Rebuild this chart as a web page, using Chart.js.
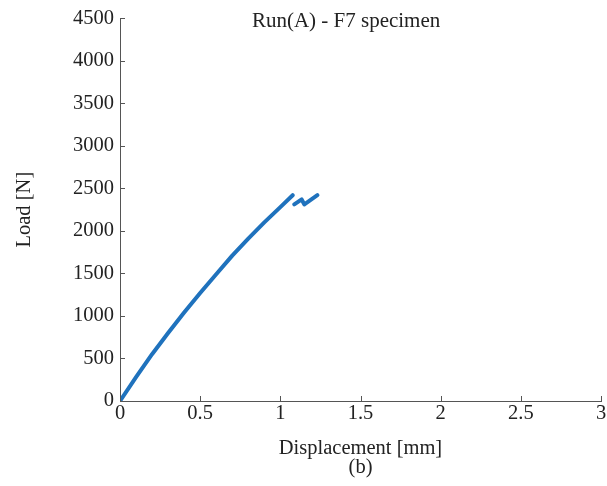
<!DOCTYPE html>
<html lang="en">
<head>
    <meta charset="UTF-8">
    <title>Run(A) - F7 specimen</title>
    <script src="https://cdn.jsdelivr.net/npm/chart.js"></script>
    <style>
        body {
            margin: 0;
            background-color: white;
        }
        #wrap {
            width: 607px;
            height: 486px;
        }
    </style>
</head>
<body>
    <div id="wrap"><canvas id="loadChart"></canvas></div>

    <script>
        // Load-displacement readings (mm, N); null = break after the first load drop
        const displacement = [0, 0.1, 0.2, 0.3, 0.4, 0.5, 0.6, 0.7, 0.8, 0.9, 1.0, 1.077, 1.08, 1.087, 1.133, 1.15, 1.231];
        const load = [0, 280, 550, 800, 1040, 1270, 1490, 1710, 1910, 2100, 2280, 2420, null, 2311, 2370, 2311, 2420];

        const xTicks = [0, 0.5, 1, 1.5, 2, 2.5, 3];
        const yTicks = [0, 500, 1000, 1500, 2000, 2500, 3000, 3500, 4000, 4500];

        const chartTitle = 'Run(A) - F7 specimen';
        const xTitle = ['Displacement [mm]', '(b)'];
        const yTitle = 'Load [N]';

        const serif = '"Liberation Serif", "DejaVu Serif", serif';

        // inward tick marks + title inside the plot
        const decorations = {
            id: 'decorations',
            afterDraw(chart) {
                const ctx = chart.ctx;
                const area = chart.chartArea;
                const xs = chart.scales.x, ys = chart.scales.y;
                ctx.save();
                ctx.strokeStyle = '#555';
                ctx.lineWidth = 1;
                ctx.beginPath();
                xTicks.forEach(v => {
                    const px = Math.round(xs.getPixelForValue(v)) + 0.5;
                    ctx.moveTo(px, area.bottom);
                    ctx.lineTo(px, area.bottom - 5);
                });
                yTicks.forEach(v => {
                    const py = Math.round(ys.getPixelForValue(v)) + 0.5;
                    ctx.moveTo(area.left, py);
                    ctx.lineTo(area.left + 5, py);
                });
                ctx.stroke();

                ctx.fillStyle = '#222';
                ctx.font = '21px ' + serif;
                ctx.textAlign = 'center';
                ctx.textBaseline = 'top';
                ctx.fillText(chartTitle, area.left + area.width * 0.47, area.top - 7);
                ctx.restore();
            }
        };

        const ctx = document.getElementById('loadChart').getContext('2d');
        new Chart(ctx, {
            type: 'line',
            data: {
                datasets: [{
                    data: displacement.map((d, i) => ({ x: d, y: load[i] })),
                    borderColor: '#1f72bd',
                    borderWidth: 4,
                    borderCapStyle: 'round',
                    borderJoinStyle: 'round',
                    pointRadius: 0,
                    tension: 0,
                    spanGaps: false,
                    fill: false
                }]
            },
            options: {
                responsive: true,
                maintainAspectRatio: false,
                animation: false,
                layout: { padding: { top: 18, right: 6, left: 0, bottom: 0 } },
                plugins: {
                    legend: { display: false },
                    tooltip: { enabled: false }
                },
                scales: {
                    x: {
                        type: 'linear',
                        min: 0,
                        max: 3,
                        afterBuildTicks: s => { s.ticks = xTicks.map(v => ({ value: v })); },
                        afterFit: s => { s.height = 85; },
                        grid: { display: false, drawTicks: false },
                        border: { display: true, color: '#555', width: 1 },
                        ticks: {
                            color: '#222',
                            padding: 0,
                            font: { family: serif, size: 20.5 },
                            callback: v => String(v)
                        },
                        title: {
                            display: true,
                            text: xTitle,
                            color: '#222',
                            font: { family: serif, size: 20.5, lineHeight: 0.97 },
                            padding: { top: 5, bottom: 8 }
                        }
                    },
                    y: {
                        type: 'linear',
                        min: 0,
                        max: 4500,
                        afterBuildTicks: s => { s.ticks = yTicks.map(v => ({ value: v })); },
                        afterFit: s => { s.width = 120; },
                        grid: { display: false, drawTicks: false },
                        border: { display: true, color: '#555', width: 1 },
                        ticks: {
                            color: '#222',
                            padding: 6,
                            font: { family: serif, size: 20.5 },
                            callback: v => String(v)
                        },
                        title: {
                            display: true,
                            text: yTitle,
                            color: '#222',
                            font: { family: serif, size: 20.5 },
                            padding: { top: 12, bottom: 0 }
                        }
                    }
                }
            },
            plugins: [decorations]
        });
    </script>
</body>
</html>
